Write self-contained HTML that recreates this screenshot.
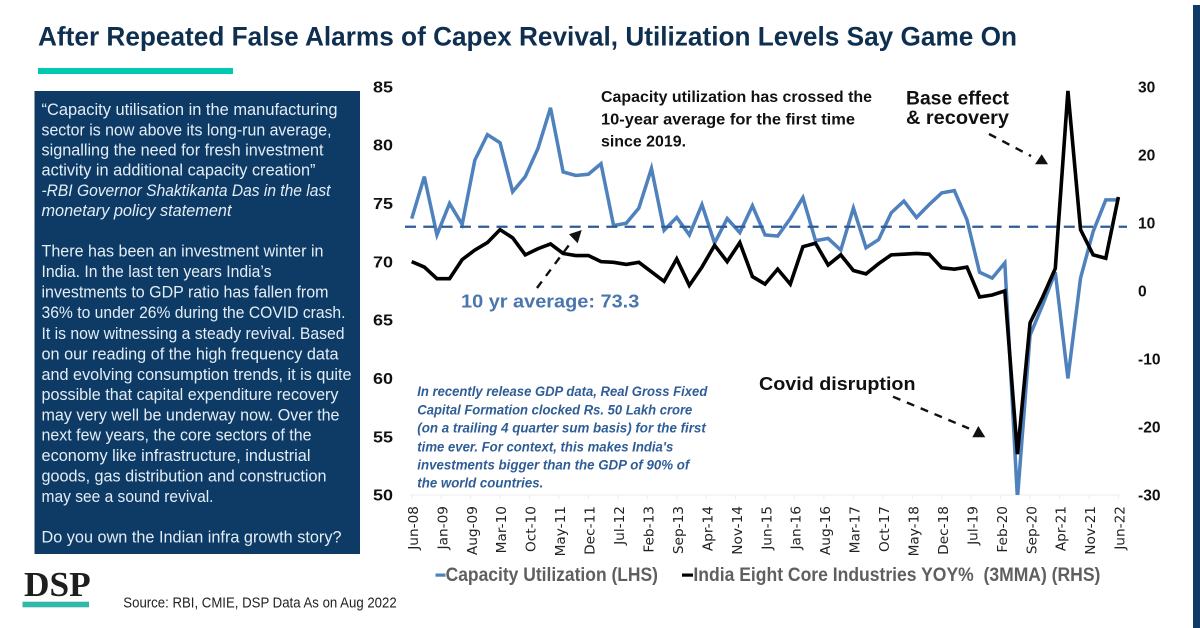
<!DOCTYPE html>
<html lang="en">
<head>
<meta charset="utf-8">
<title>After Repeated False Alarms of Capex Revival</title>
<style>
html,body{margin:0;padding:0;background:#fff;width:1200px;height:628px;overflow:hidden}
svg{display:block;font-family:"Liberation Sans",sans-serif}
.p{font-size:16.6px;fill:#e4edf5}
.pi{font-size:16.6px;fill:#e4edf5;font-style:italic}
.n{font-size:14.2px;font-weight:bold;font-style:italic;fill:#2f5d96}
.a{font-size:15.6px;font-weight:bold;fill:#111}
.big{font-weight:bold;fill:#111}
.lg{font-size:19px;font-weight:bold;fill:#5f5f5f}
.yl{font-size:15.6px;font-weight:bold;fill:#111}
.xl{font-size:13.7px;fill:#222;font-family:"DejaVu Sans",sans-serif}
</style>
</head>
<body>
<svg id="page" width="1200" height="628" viewBox="0 0 1200 628" xmlns="http://www.w3.org/2000/svg">
<defs><clipPath id="plot-clip"><rect x="400" y="80" width="730" height="415"/></clipPath></defs>
<rect x="1193" y="5" width="7" height="623" fill="#0d3b66"/>
<text x="38" y="45.7" font-size="26.6" font-weight="bold" fill="#0f2f50" textLength="979" lengthAdjust="spacingAndGlyphs">After Repeated False Alarms of Capex Revival, Utilization Levels Say Game On</text>
<rect x="38" y="68" width="195" height="6" fill="#00c9b1"/>

<g>
<rect x="34.5" y="91" width="325.5" height="463" fill="#0d3b66"/>
<text class="p" x="41.5" y="115" textLength="296" lengthAdjust="spacingAndGlyphs">“Capacity utilisation in the manufacturing</text>
<text class="p" x="41.5" y="135.5" textLength="290" lengthAdjust="spacingAndGlyphs">sector is now above its long-run average,</text>
<text class="p" x="41.5" y="155.5" textLength="282" lengthAdjust="spacingAndGlyphs">signalling the need for fresh investment</text>
<text class="p" x="41.5" y="175.7" textLength="274" lengthAdjust="spacingAndGlyphs">activity in additional capacity creation”</text>
<text class="pi" x="41.5" y="196" textLength="289" lengthAdjust="spacingAndGlyphs">-RBI Governor Shaktikanta Das in the last</text>
<text class="pi" x="41.5" y="216" textLength="190" lengthAdjust="spacingAndGlyphs">monetary policy statement</text>
<text class="p" x="41.5" y="256.7" textLength="282" lengthAdjust="spacingAndGlyphs">There has been an investment winter in</text>
<text class="p" x="41.5" y="277" textLength="230" lengthAdjust="spacingAndGlyphs">India. In the last ten years India’s</text>
<text class="p" x="41.5" y="297.7" textLength="287" lengthAdjust="spacingAndGlyphs">investments to GDP ratio has fallen from</text>
<text class="p" x="41.5" y="318" textLength="304" lengthAdjust="spacingAndGlyphs">36% to under 26% during the COVID crash.</text>
<text class="p" x="41.5" y="339" textLength="303" lengthAdjust="spacingAndGlyphs">It is now witnessing a steady revival. Based</text>
<text class="p" x="41.5" y="359.3" textLength="297" lengthAdjust="spacingAndGlyphs">on our reading of the high frequency data</text>
<text class="p" x="41.5" y="380" textLength="310" lengthAdjust="spacingAndGlyphs">and evolving consumption trends, it is quite</text>
<text class="p" x="41.5" y="400" textLength="297" lengthAdjust="spacingAndGlyphs">possible that capital expenditure recovery</text>
<text class="p" x="41.5" y="420.7" textLength="298" lengthAdjust="spacingAndGlyphs">may very well be underway now. Over the</text>
<text class="p" x="41.5" y="440.7" textLength="270" lengthAdjust="spacingAndGlyphs">next few years, the core sectors of the</text>
<text class="p" x="41.5" y="461" textLength="269" lengthAdjust="spacingAndGlyphs">economy like infrastructure, industrial</text>
<text class="p" x="41.5" y="481.7" textLength="285" lengthAdjust="spacingAndGlyphs">goods, gas distribution and construction</text>
<text class="p" x="41.5" y="502" textLength="172" lengthAdjust="spacingAndGlyphs">may see a sound revival.</text>
<text class="p" x="41.5" y="542.7" textLength="300" lengthAdjust="spacingAndGlyphs">Do you own the Indian infra growth story?</text>
</g>

<g>
<text x="24" y="596" font-family="'Liberation Serif',serif" font-weight="bold" font-size="35" fill="#1e1e1e" textLength="66.7" lengthAdjust="spacingAndGlyphs">DSP</text>
<rect x="22.5" y="601.7" width="66.5" height="5.6" fill="#33b8a8"/>
</g>
<text x="123.3" y="607.7" font-size="14.6" fill="#222" textLength="273.4" lengthAdjust="spacingAndGlyphs">Source: RBI, CMIE, DSP Data As on Aug 2022</text>

<g id="chart"></g>

<g>
<text class="a" x="601" y="102" textLength="271" lengthAdjust="spacingAndGlyphs">Capacity utilization has crossed the</text>
<text class="a" x="601" y="124.3" textLength="254" lengthAdjust="spacingAndGlyphs">10-year average for the first time</text>
<text class="a" x="601" y="146.7" textLength="85" lengthAdjust="spacingAndGlyphs">since 2019.</text>

<text class="big" font-size="19.5" x="906" y="104.3" textLength="103" lengthAdjust="spacingAndGlyphs">Base effect</text>
<text class="big" font-size="19.5" x="906" y="124" textLength="103" lengthAdjust="spacingAndGlyphs">&amp; recovery</text>
<line x1="989" y1="134" x2="1031" y2="156" stroke="#111" stroke-width="2.4" stroke-dasharray="8 7"/>
<polygon points="1041.7,154.3 1035,164.3 1048,164.3" fill="#111"/>

<text x="461" y="307.3" font-size="18.6" font-weight="bold" fill="#4a76ad" textLength="178.3" lengthAdjust="spacingAndGlyphs">10 yr average: 73.3</text>
<line x1="537" y1="288" x2="572" y2="241" stroke="#111" stroke-width="2.4" stroke-dasharray="8 7"/>
<polygon points="581.7,230 569,234.3 577.7,243.3" fill="#111"/>

<text class="big" font-size="18.6" x="759" y="390" textLength="156.5" lengthAdjust="spacingAndGlyphs">Covid disruption</text>
<line x1="893" y1="396.7" x2="969" y2="428.5" stroke="#111" stroke-width="2.4" stroke-dasharray="8 7"/>
<polygon points="978.3,426 972.3,437.3 985.3,437.3" fill="#111"/>

<text class="n" x="417.3" y="396" textLength="290" lengthAdjust="spacingAndGlyphs">In recently release GDP data, Real Gross Fixed</text>
<text class="n" x="417.3" y="414.7" textLength="275" lengthAdjust="spacingAndGlyphs">Capital Formation clocked Rs. 50 Lakh crore</text>
<text class="n" x="417.3" y="432.7" textLength="288.5" lengthAdjust="spacingAndGlyphs">(on a trailing 4 quarter sum basis) for the first</text>
<text class="n" x="417.3" y="451.3" textLength="256" lengthAdjust="spacingAndGlyphs">time ever. For context, this makes India's</text>
<text class="n" x="417.3" y="469.3" textLength="272" lengthAdjust="spacingAndGlyphs">investments bigger than the GDP of 90% of</text>
<text class="n" x="417.3" y="487.7" textLength="126" lengthAdjust="spacingAndGlyphs">the world countries.</text>
</g>

<g>
<rect x="435.5" y="573.5" width="10" height="3.2" fill="#4f81bd"/>
<text class="lg" x="445.6" y="581" textLength="212.4" lengthAdjust="spacingAndGlyphs">Capacity Utilization (LHS)</text>
<rect x="682" y="573.5" width="11" height="3.2" fill="#000"/>
<text class="lg" x="693.4" y="581" textLength="407" lengthAdjust="spacingAndGlyphs" xml:space="preserve">India Eight Core Industries YOY%  (3MMA) (RHS)</text>
</g>
</svg>

<script>
const categories = ["Jun-08","Sep-08","Dec-08","Mar-09","Jun-09","Sep-09","Dec-09","Mar-10","Jun-10","Sep-10","Dec-10","Mar-11","Jun-11","Sep-11","Dec-11","Mar-12","Jun-12","Sep-12","Dec-12","Mar-13","Jun-13","Sep-13","Dec-13","Mar-14","Jun-14","Sep-14","Dec-14","Mar-15","Jun-15","Sep-15","Dec-15","Mar-16","Jun-16","Sep-16","Dec-16","Mar-17","Jun-17","Sep-17","Dec-17","Mar-18","Jun-18","Sep-18","Dec-18","Mar-19","Jun-19","Sep-19","Dec-19","Mar-20","Jun-20","Sep-20","Dec-20","Mar-21","Jun-21","Sep-21","Dec-21","Mar-22","Jun-22"];
const capacityUtilization = [73.7,77.3,72.3,75.0,73.2,78.7,80.9,80.2,76.0,77.3,79.7,83.2,77.7,77.4,77.5,78.4,73.1,73.3,74.6,78.0,72.7,73.8,72.3,74.9,71.6,73.7,72.5,74.8,72.3,72.2,73.7,75.5,71.8,72.0,71.0,74.6,71.2,71.9,74.2,75.2,73.8,74.9,75.9,76.1,73.6,69.1,68.6,69.9,49.7,63.7,66.3,69.1,60.0,68.6,72.6,75.3,75.3];
const coreIndustries = [4.3,3.5,1.8,1.8,4.6,6.0,7.1,9.0,7.8,5.3,6.2,6.9,5.5,5.2,5.2,4.3,4.2,3.9,4.2,2.8,1.4,4.7,0.8,3.5,6.7,4.3,7.1,2.1,1.0,3.2,1.0,6.5,7.0,3.8,5.3,3.0,2.5,4.0,5.3,5.4,5.5,5.4,3.4,3.2,3.5,-0.9,-0.6,0.0,-24.0,-4.7,-0.9,3.3,29.4,9.0,5.3,4.8,13.8];
const tickLabels = ["Jun-08","Jan-09","Aug-09","Mar-10","Oct-10","May-11","Dec-11","Jul-12","Feb-13","Sep-13","Apr-14","Nov-14","Jun-15","Jan-16","Aug-16","Mar-17","Oct-17","May-18","Dec-18","Jul-19","Feb-20","Sep-20","Apr-21","Nov-21","Jun-22"];
const lhsTicks = [85,80,75,70,65,60,55,50];
const rhsTicks = [30,20,10,0,-10,-20,-30];
const averageLevel = [73.0];

const NS = "http://www.w3.org/2000/svg";
const chart = document.getElementById("chart");
const plot = {left: 411.7, right: 1118.4, top: 86.8, bottom: 495};
const lhsMax = lhsTicks[0], lhsMin = lhsTicks[lhsTicks.length - 1];
const rhsMax = rhsTicks[0], rhsMin = rhsTicks[rhsTicks.length - 1];

function xAxis(i) {
  return plot.left + i * (plot.right - plot.left) / (categories.length - 1);
}
function yLeft(v) {
  return plot.top + (lhsMax - v) * (plot.bottom - plot.top) / (lhsMax - lhsMin);
}
function yRight(v) {
  return plot.top + (rhsMax - v) * (plot.bottom - plot.top) / (rhsMax - rhsMin);
}
function make(tag, attrs, text) {
  const el = document.createElementNS(NS, tag);
  for (const k in attrs) el.setAttribute(k, attrs[k]);
  if (text !== undefined) el.textContent = text;
  chart.appendChild(el);
  return el;
}

const baseline = make("line", {x1: 410, x2: 1120, y1: plot.bottom, y2: plot.bottom, stroke: "#ececec", "stroke-width": 1});



const labelStep = (categories.length - 1) / (tickLabels.length - 1);
tickLabels.forEach(function (label, i) {
  const x = xAxis(i * labelStep);
  const tick = make("line", {x1: x, x2: x, y1: plot.bottom, y2: plot.bottom + 4, stroke: "#ececec", "stroke-width": 1});
  
  
  const tx = x + 6.2, ty = 506;
  const t = make("text", {class: "xl", x: tx, y: ty, "text-anchor": "end", transform: "rotate(-90 " + tx + " " + ty + ")"}, label);
  
  
});

lhsTicks.forEach(function (v) {
  const t = make("text", {class: "yl", x: 373, y: yLeft(v) + 5.6, textLength: 20, lengthAdjust: "spacingAndGlyphs"}, String(v));
  
  
});
rhsTicks.forEach(function (v) {
  const t = make("text", {class: "yl", x: 1138, y: yRight(v) + 5.6}, String(v));
  
  
});

function linePath(values, yFn) {
  return values.map(function (v, i) {
    return (i ? "L" : "M") + xAxis(i).toFixed(2) + " " + yFn(v).toFixed(2);
  }).join(" ");
}

const blue = make("path", {d: linePath(capacityUtilization, yLeft), fill: "none", stroke: "#4f81bd", "stroke-width": 3.5, "stroke-linejoin": "miter", "clip-path": "url(#plot-clip)"});



const black = make("path", {d: linePath(coreIndustries, yRight), fill: "none", stroke: "#000", "stroke-width": 3.6, "stroke-linejoin": "miter", "clip-path": "url(#plot-clip)"});



const avg = make("line", {x1: 405, x2: 1127, y1: yLeft(averageLevel[0]), y2: yLeft(averageLevel[0]), stroke: "#2f5a96", "stroke-width": 2.3, "stroke-dasharray": "11 7.3"});


</script>
</body>
</html>
